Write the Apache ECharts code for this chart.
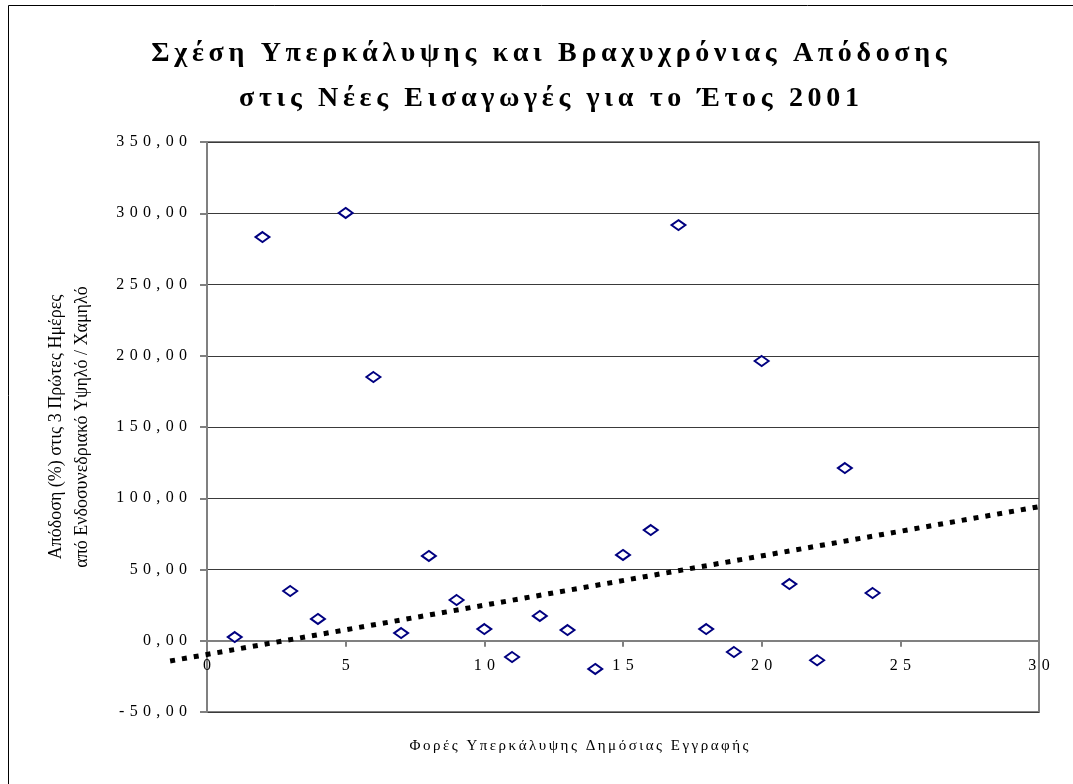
<!DOCTYPE html>
<html>
<head>
<meta charset="utf-8">
<script src="https://cdn.jsdelivr.net/npm/echarts@6/dist/echarts.min.js"></script>
<style>
  html, body { margin: 0; padding: 0; background: #fff; }
  #main { width: 1073px; height: 784px; }
</style>
</head>
<body>
<div id="main"></div>
<script>
// Φορές υπερκάλυψης (x) και απόδοση 3 πρώτων ημερών (y)
var xValues = [1, 2, 3, 4, 5, 6, 7, 8, 9, 10, 11, 12, 13, 14, 15, 16, 17, 18, 19, 20, 21, 22, 23, 24];
var yValues = [2.6, 283.3, 34.9, 15.3, 300.2, 185.1, 5.4, 59.5, 28.6, 8.2, -11.4, 17.4,
               7.5, -19.8, 60.2, 77.7, 291.7, 8.2, -7.9, 196.3, 39.8, -13.7, 121.2, 33.5];
// γραμμή τάσης (άκρα όπως φαίνονται στο γράφημα)
var trendX = [-1.33, 30];
var trendY = [-14.2, 94.1];

var titleLines = ['Σχέση Υπερκάλυψης και Βραχυχρόνιας Απόδοσης', 'στις Νέες Εισαγωγές για το Έτος 2001'];
var xName = 'Φορές Υπερκάλυψης Δημόσιας Εγγραφής';
var yNameLines = ['Απόδοση (%) στις 3 Πρώτες Ημέρες', 'από Ενδοσυνεδριακό Υψηλό / Χαμηλό'];

// αραιή γραφή όπως στο excel
function spaced(s, gap) {
    return String(s).split('').join(gap);
}

var scatterData = xValues.map(function (x, i) { return [x, yValues[i]]; });

var chart = echarts.init(document.getElementById('main'));

var serif = '"Liberation Serif", "Times New Roman", serif';

option = {
    backgroundColor: '#fff',
    animation: false,
    title: {
        text: titleLines.map(function (t) { return spaced(t, '\u2006'); }).join('\n'),
        left: 544,
        textAlign: 'center',
        top: 26,
        textStyle: {
            color: '#000',
            fontFamily: serif,
            fontWeight: 'bold',
            fontSize: 28,
            lineHeight: 45
        }
    },
    grid: {
        left: 207,
        right: 34,
        top: 142,
        bottom: 72,
        outerBoundsMode: 'none',
        containLabel: false,
        show: true,
        borderColor: '#808080',
        borderWidth: 2,
        backgroundColor: '#fff'
    },
    xAxis: {
        type: 'value',
        min: 0,
        max: 30,
        interval: 5,
        // άξονας x στο μηδέν
        offset: -71.25,
        name: spaced(xName, '\u2006'),
        nameLocation: 'middle',
        nameGap: 98,
        nameTextStyle: {
            color: '#000',
            fontFamily: serif,
            fontSize: 15,
            padding: [0, 88, 0, 0]
        },
        axisLine: {
            show: true,
            onZero: false,
            lineStyle: { color: '#808080', width: 2 }
        },
        axisTick: {
            show: true,
            length: 6,
            lineStyle: { color: '#808080', width: 2 }
        },
        splitLine: { show: false },
        axisLabel: {
            margin: 17,
            color: '#000',
            fontFamily: serif,
            fontSize: 16,
            formatter: function (v) { return spaced(v, '\u2004'); }
        }
    },
    yAxis: {
        type: 'value',
        min: -50,
        max: 350,
        interval: 50,
        name: yNameLines.join('\n'),
        nameLocation: 'middle',
        nameGap: 112,
        nameTextStyle: {
            color: '#000',
            fontFamily: serif,
            fontSize: 18,
            lineHeight: 26
        },
        axisLine: {
            show: true,
            lineStyle: { color: '#808080', width: 2 }
        },
        axisTick: {
            show: true,
            length: 7,
            lineStyle: { color: '#808080', width: 2 }
        },
        splitLine: {
            show: true,
            lineStyle: { color: '#3a3a3a', width: 1 }
        },
        axisLabel: {
            margin: 20,
            color: '#000',
            fontFamily: serif,
            fontSize: 16,
            formatter: function (v) {
                return spaced(v.toFixed(2).replace('.', ','), '\u2004');
            }
        }
    },
    series: [
        {
            // γραμμή τάσης, ξεκινά λίγο πριν το 0
            type: 'custom',
            clip: false,
            silent: true,
            z: 3,
            renderItem: function (params, api) {
                var p0 = api.coord([api.value(0), api.value(1)]);
                var p1 = api.coord([api.value(2), api.value(3)]);
                return {
                    type: 'line',
                    shape: { x1: p0[0], y1: p0[1], x2: p1[0], y2: p1[1] },
                    style: {
                        stroke: '#000',
                        lineWidth: 5,
                        lineDash: [5, 7]
                    }
                };
            },
            data: [[trendX[0], trendY[0], trendX[1], trendY[1]]]
        },
        {
            type: 'scatter',
            data: scatterData,
            symbol: 'diamond',
            symbolSize: [14, 10],
            z: 4,
            itemStyle: {
                color: '#fff',
                borderColor: '#000080',
                borderWidth: 2,
                opacity: 1
            }
        }
    ],
    graphic: [
        {
            // πλαίσιο γραφήματος
            type: 'rect',
            silent: true,
            z: 100,
            shape: { x: 8.5, y: 5.5, width: 1100, height: 800 },
            style: { fill: 'none', stroke: '#000', lineWidth: 1 }
        }
    ]
};

chart.setOption(option);
</script>
</body>
</html>
